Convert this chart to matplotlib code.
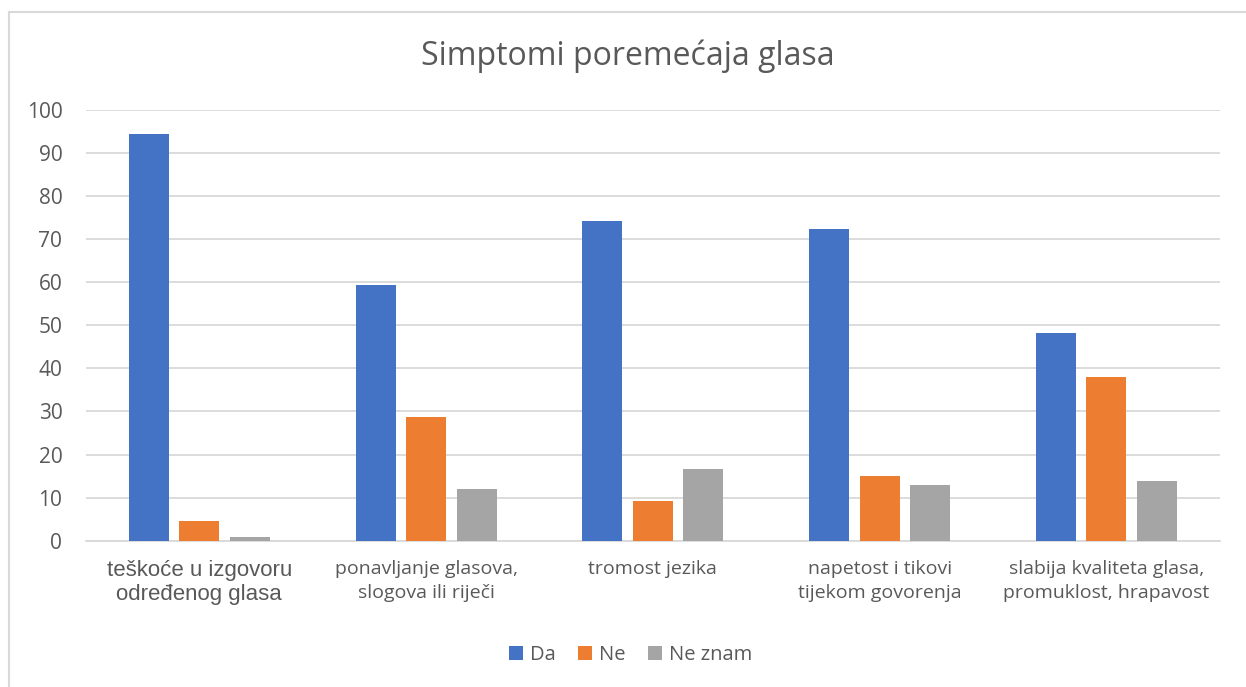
import numpy as np
import matplotlib.pyplot as plt
from matplotlib.lines import Line2D

categories = ["teškoće u izgovoru\nodređenog glasa",
              "ponavljanje glasova,\nslogova ili riječi",
              "tromost jezika",
              "napetost i tikovi\ntijekom govorenja",
              "slabija kvaliteta glasa,\npromuklost, hrapavost"]
da = [94.4, 59.4, 74.2, 72.3, 48.1]
ne = [4.6, 28.7, 9.3, 14.9, 38.0]
ne_znam = [0.9, 12.0, 16.6, 12.9, 13.9]
series_names = ["Da", "Ne", "Ne znam"]
colors = ["#4472C4", "#ED7D31", "#A5A5A5"]
text_color = "#595959"

plt.rcParams['font.family'] = ['Open Sans', 'DejaVu Sans']

fig = plt.figure(figsize=(12.46, 6.87), dpi=100)
ax = fig.add_axes([0.069, 0.213, 0.910, 0.627])

x = np.arange(len(categories))
width = 0.176
step = 0.2227
for i, (vals, name, c) in enumerate(zip([da, ne, ne_znam], series_names, colors)):
    ax.bar(x + (i - 1) * step, vals, width, color=c, label=name, zorder=3)

ax.set_xlim(-0.5, len(categories) - 0.5)
ax.set_ylim(0, 100)
ax.set_yticks(np.arange(0, 101, 10))
ax.yaxis.grid(True, color="#D9D9D9", linewidth=1.3, zorder=0)
ax.tick_params(axis='y', length=0, labelsize=15, labelcolor=text_color, pad=17)
ax.tick_params(axis='x', length=0, pad=14)
for s in ["top", "right", "left"]:
    ax.spines[s].set_visible(False)
ax.spines["bottom"].set_color("#D9D9D9")
ax.spines["bottom"].set_linewidth(1.3)

ax.set_xticks(x)
labels = ax.set_xticklabels(categories, color=text_color, fontsize=14, linespacing=1.4)
labels[0].set_fontfamily(['Liberation Sans', 'DejaVu Sans'])
labels[0].set_fontsize(16)
labels[0].set_linespacing(1.2)

fig.text(0.504, 0.918, "Simptomi poremećaja glasa", ha="center", va="center",
         fontsize=23, color=text_color)

ax.legend(loc="center", frameon=False, ncol=3, fontsize=14.5, labelcolor=text_color,
          handlelength=0.7, handleheight=0.7, handletextpad=0.35, columnspacing=1.1)
leg = ax.get_legend()
leg.set_bbox_to_anchor((0.506, 0.046), transform=fig.transFigure)

# chart frame (only left and top edges are visible in the crop)
fig.add_artist(Line2D([9 / 1246, 9 / 1246], [0, 1 - 12 / 687], color="#D9D9D9", lw=1.5))
fig.add_artist(Line2D([9 / 1246, 1], [1 - 12 / 687, 1 - 12 / 687], color="#D9D9D9", lw=1.5))

fig.savefig("out.png", dpi=100)
